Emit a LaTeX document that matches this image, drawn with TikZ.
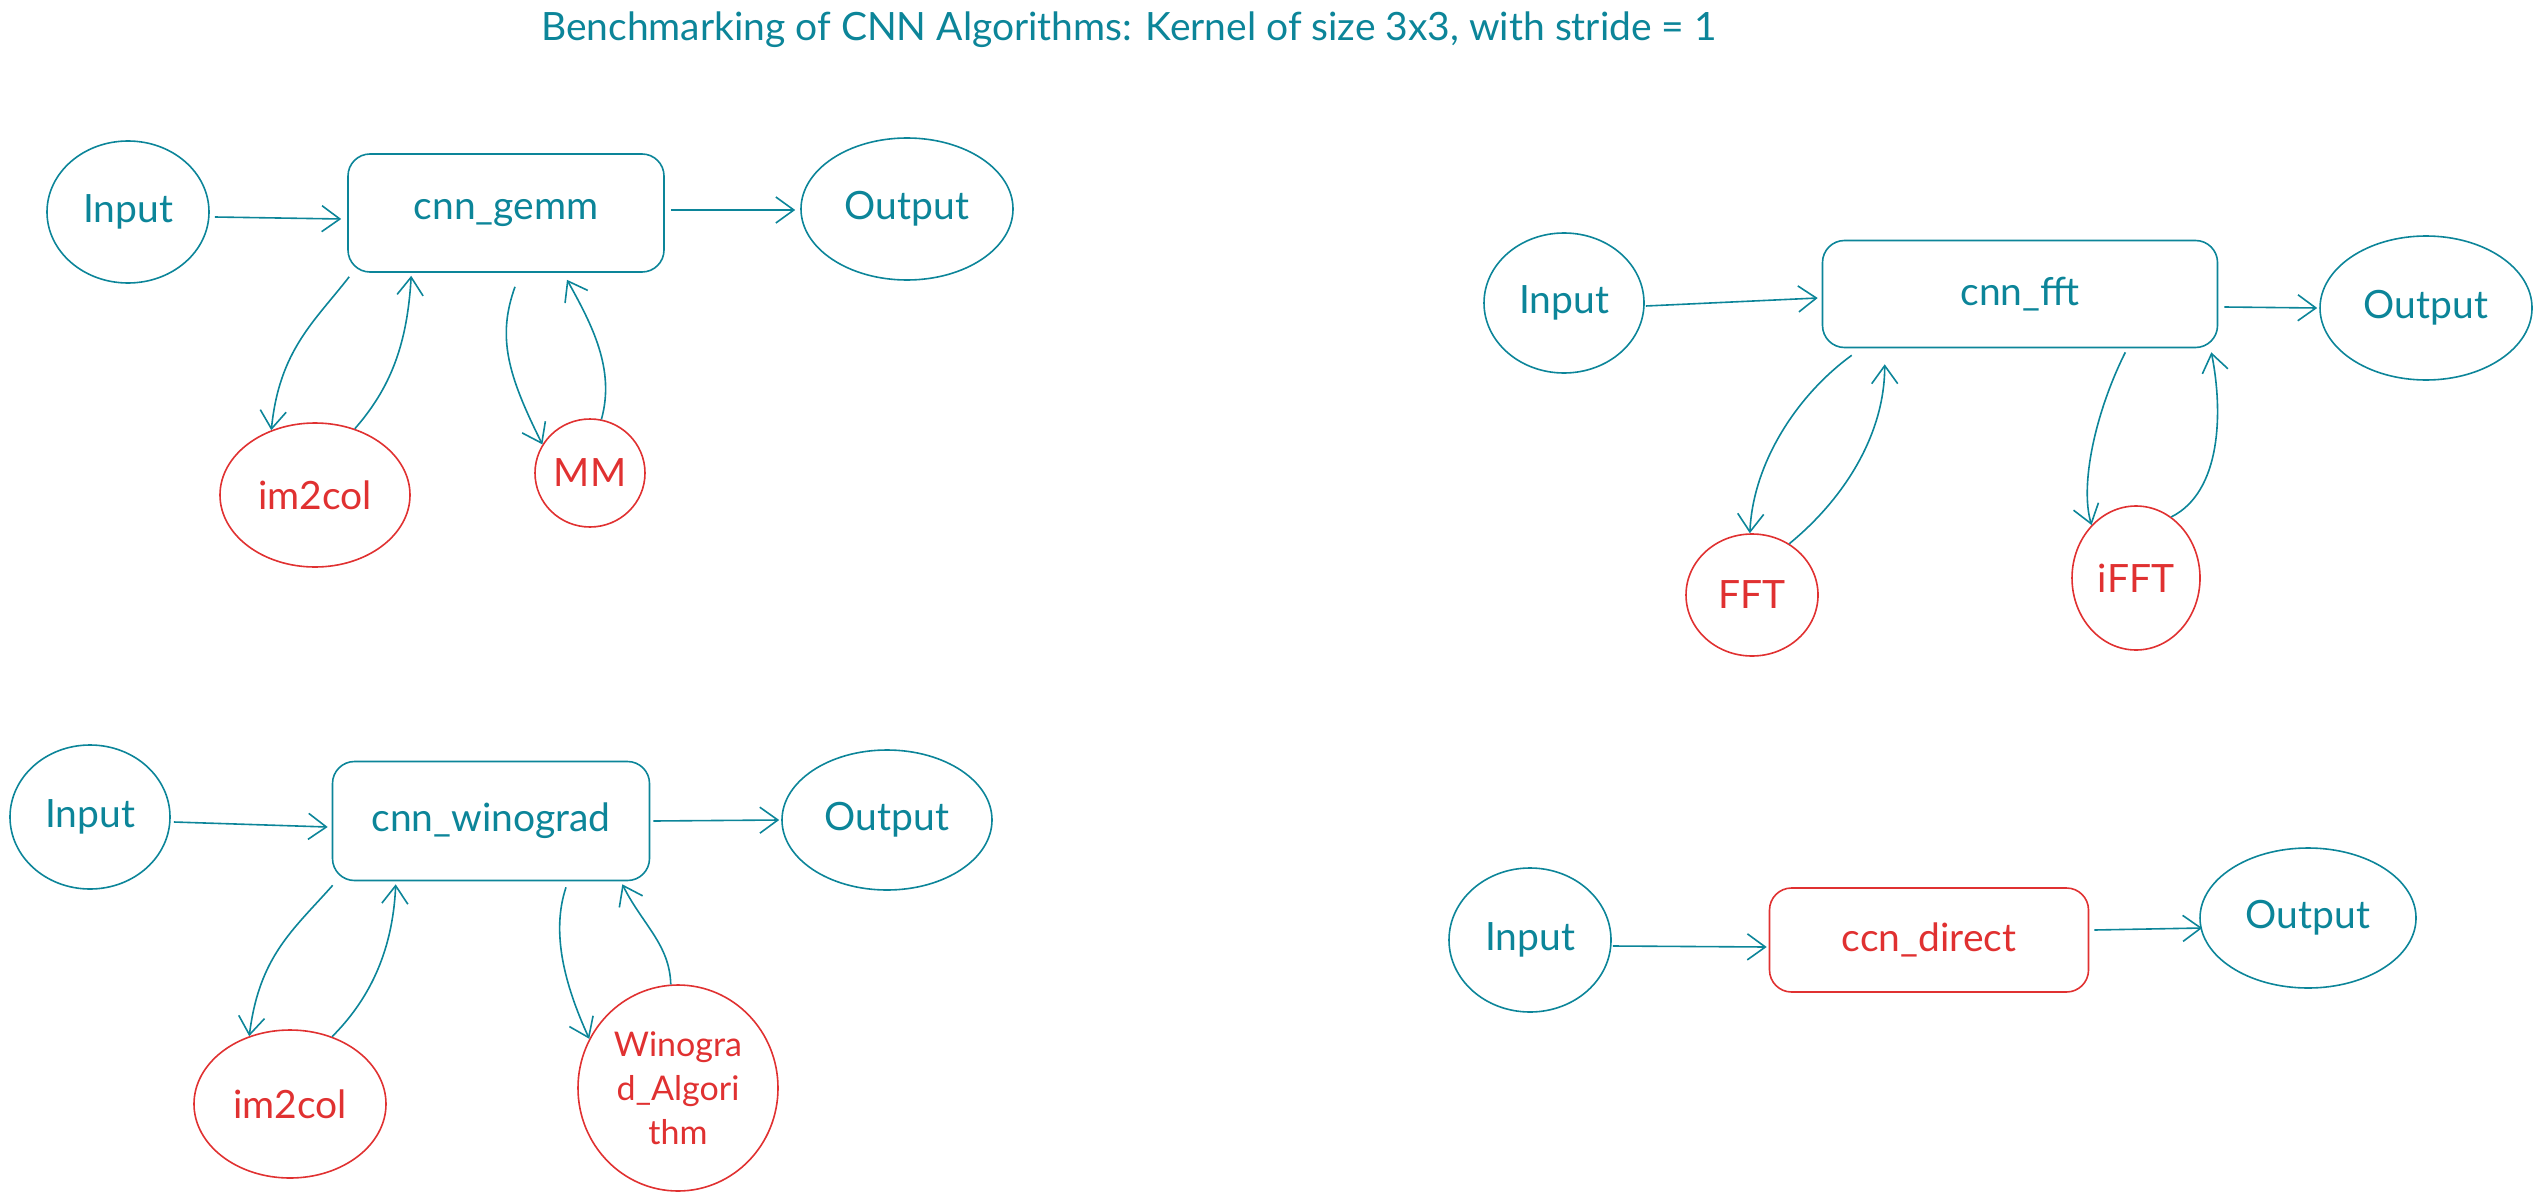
\documentclass[tikz,border=0pt]{standalone}
\usepackage{fontspec}
\setmainfont{Lato}
\usetikzlibrary{arrows.meta,shapes.geometric}
\definecolor{tealx}{HTML}{0C8599}
\definecolor{redx}{HTML}{E03131}
\begin{document}
\begin{tikzpicture}[x=1pt,y=-1pt,
  base/.style={draw, line width=1.6pt, font=\fontsize{39}{44}\selectfont, inner sep=0pt},
  tnode/.style={base, ellipse, draw=tealx, text=tealx},
  rnode/.style={base, ellipse, draw=redx, text=redx},
  tbox/.style={base, rectangle, rounded corners=22pt, draw=tealx, text=tealx},
  rbox/.style={base, rectangle, rounded corners=22pt, draw=redx, text=redx},
  conn/.style={draw=tealx, line width=1.6pt, -{Straight Barb[length=18pt,width=26pt,line width=1.6pt]}},
]
\useasboundingbox (0,0) rectangle (2539,1201);

% title
\node[text=tealx, font=\fontsize{39}{44}\selectfont] (title) at (1129,30)
  {Benchmarking of CNN Algorithms: Kernel of size 3x3, with stride = 1};

% ---------- group 1: gemm ----------
\node[tnode, minimum width=162pt, minimum height=142pt] (in1) at (128,212) {Input};
\node[tbox, minimum width=316pt, minimum height=118pt] (gemm) at (506,213) {cnn\_gemm};
\node[tnode, minimum width=212pt, minimum height=142pt] (out1) at (907,209) {Output};
\node[rnode, minimum width=190pt, minimum height=144pt] (i2c1) at (315,495) {im2col};
\node[rnode, minimum width=110pt, minimum height=108pt] (mm) at (590,473) {MM};

\draw[conn] ([shift={(5,5)}]in1.east) -- ([shift={(-6,6)}]gemm.west);
\draw[conn] ([shift={(6,-3)}]gemm.east) -- ([shift={(-5,1)}]out1.west);
\draw[conn] ([shift={(2,4)}]gemm.south west) .. controls +(-35,45) and +(8,-80) .. (i2c1.124);
\draw[conn] (i2c1.59) .. controls +(35,-40) and +(-4,70) .. ([shift={(64,3)}]gemm.south west);
\draw[conn] ([shift={(9,14)}]gemm.south) .. controls +(-18,50) and +(-35,-70) .. (mm.149);
\draw[conn] (mm.78) .. controls +(14,-50) and +(25,45) .. ([shift={(61,7)}]gemm.south);

% ---------- group 2: fft ----------
\node[tnode, minimum width=160pt, minimum height=140pt] (in2) at (1564,303) {Input};
\node[tbox, minimum width=395pt, minimum height=107pt] (fft) at (2020,294) {cnn\_fft};
\node[tnode, minimum width=212pt, minimum height=144pt] (out2) at (2426,308) {Output};
\node[rnode, minimum width=132pt, minimum height=122pt] (fftc) at (1752,595) {FFT};
\node[rnode, minimum width=128pt, minimum height=144pt] (ifft) at (2136,578) {iFFT};

\draw[conn] ([shift={(1,3)}]in2.east) -- ([shift={(-4,4)}]fft.west);
\draw[conn] ([shift={(6,13)}]fft.east) -- ([shift={(-2,0)}]out2.west);
\draw[conn] ([shift={(30,7)}]fft.south west) .. controls +(-55,40) and +(3,-70) .. (fftc.92);
\draw[conn] (fftc.54) .. controls +(55,-45) and +(0,70) .. ([shift={(63,16)}]fft.south west);
\draw[conn] ([shift={(-93,4)}]fft.south east) .. controls +(-30,60) and +(-12,-40) .. (ifft.130);
\draw[conn] (ifft.60) .. controls +(50,-25) and +(12,60) .. ([shift={(-7,4)}]fft.south east);

% ---------- group 3: winograd ----------
\node[tnode, minimum width=160pt, minimum height=144pt] (in3) at (90,817) {Input};
\node[tbox, minimum width=317pt, minimum height=119pt] (wino) at (491,821) {cnn\_winograd};
\node[tnode, minimum width=210pt, minimum height=140pt] (out3) at (887,820) {Output};
\node[rnode, minimum width=192pt, minimum height=148pt] (i2c3) at (290,1104) {im2col};
\node[rnode, minimum width=200pt, minimum height=206pt, align=center,
  font=\fontsize{34}{44}\selectfont] (algo) at (678,1088)
  {Winogra\\d\_Algori\\thm};

\draw[conn] ([shift={(3,5)}]in3.east) -- ([shift={(-4,6)}]wino.west);
\draw[conn] ([shift={(3,0)}]wino.east) -- ([shift={(-2,0)}]out3.west);
\draw[conn] ([shift={(1,4)}]wino.south west) .. controls +(-40,45) and +(10,-80) .. (i2c3.121);
\draw[conn] (i2c3.58) .. controls +(35,-35) and +(-3,70) .. ([shift={(64,3)}]wino.south west);
\draw[conn] ([shift={(75,6)}]wino.south) .. controls +(-15,45) and +(-25,-55) .. (algo.151);
\draw[conn] (algo.94) .. controls +(-1,-40) and +(20,40) .. ([shift={(-28,3)}]wino.south east);

% ---------- group 4: direct ----------
\node[tnode, minimum width=162pt, minimum height=144pt] (in4) at (1530,940) {Input};
\node[rbox, minimum width=319pt, minimum height=104pt] (direct) at (1929,940) {ccn\_direct};
\node[tnode, minimum width=216pt, minimum height=140pt] (out4) at (2308,918) {Output};

\draw[conn] ([shift={(1,6)}]in4.east) -- ([shift={(-2,7)}]direct.west);
\draw[conn] ([shift={(5,-10)}]direct.east) -- ([shift={(3,10)}]out4.west);
\end{tikzpicture}
\end{document}
